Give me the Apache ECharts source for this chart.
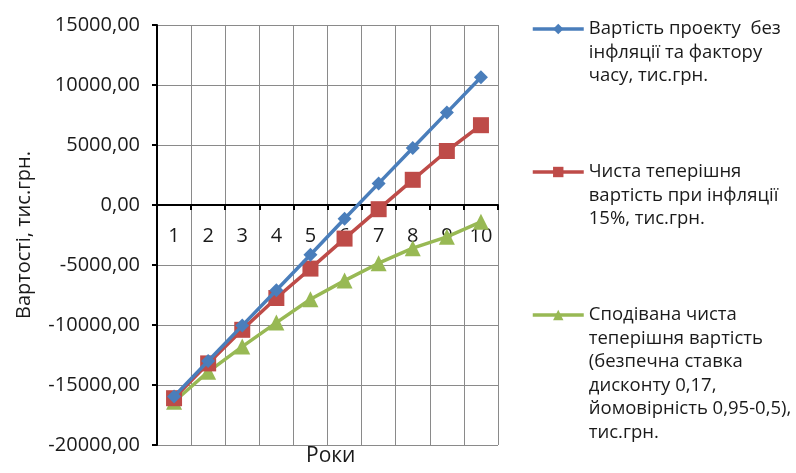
<!DOCTYPE html>
<html>
<head>
<meta charset="utf-8">
<style>
html, body { margin: 0; padding: 0; background: #fff; }
#chart { width: 796px; height: 473px; }
</style>
<script src="https://cdn.jsdelivr.net/npm/echarts@6/dist/echarts.min.js"></script>
</head>
<body>
<div id="chart"></div>
<script>
var years = ['1', '2', '3', '4', '5', '6', '7', '8', '9', '10'];
var costNoInflation = [-15950, -13000, -10050, -7100, -4150, -1150, 1800, 4750, 7700, 10650];
var npvInflation = [-16100, -13200, -10400, -7750, -5300, -2800, -350, 2100, 4500, 6650];
var expectedNpv = [-16400, -13900, -11800, -9800, -7850, -6300, -4850, -3600, -2650, -1400];
var seriesNames = [
    'Вартість проекту  без\nінфляції та фактору\nчасу, тис.грн.',
    'Чиста теперішня\nвартість при інфляції\n15%, тис.грн.',
    'Сподівана чиста\nтеперішня вартість\n(безпечна ставка\nдисконту 0,17,\nйомовірність 0,95-0,5),\nтис.грн.'
];

var font = '"Open Sans", "Noto Sans", sans-serif';
var textColor = '#1a1a1a';
var chart = echarts.init(document.getElementById('chart'));

// legend text is centred on its icon, so blank lines are put in front
// to bring the first line level with the icon
function legendFor(name, centerY) {
    var lh = 23.5;
    var lines = name.split('\n').length;
    return {
        data: [name],
        orient: 'vertical',
        left: 531,
        top: centerY - (2 * lines - 1) * lh / 2,
        padding: 0,
        itemWidth: 51,
        itemHeight: 13,
        itemGap: 0,
        lineStyle: { width: 3.5 },
        formatter: function (n) {
            return new Array(lines).join('\n') + n;
        },
        textStyle: {
            fontFamily: font,
            fontSize: 18.5,
            color: textColor,
            lineHeight: lh
        }
    };
}

var option = {
    backgroundColor: '#fff',
    animation: false,
    legend: [
        legendFor(seriesNames[0], 29),
        legendFor(seriesNames[1], 172),
        legendFor(seriesNames[2], 315)
    ],
    grid: {
        left: 157,
        right: 298,
        top: 25,
        bottom: 28,
        outerBoundsMode: 'none'
    },
    title: {
        text: 'Роки',
        left: 306,
        top: 446,
        padding: 0,
        textStyle: {
            fontFamily: font,
            fontSize: 21,
            fontWeight: 'normal',
            color: textColor
        }
    },
    xAxis: {
        type: 'category',
        data: years,
        boundaryGap: true,
        offset: -240,
        axisLine: {
            onZero: false,
            lineStyle: { color: '#000', width: 2 }
        },
        axisTick: {
            show: true,
            length: 5,
            lineStyle: { color: '#000', width: 2 }
        },
        axisLabel: {
            fontFamily: font,
            fontSize: 20,
            color: textColor,
            margin: 21
        },
        splitLine: {
            show: true,
            lineStyle: { color: '#8a8a8a', width: 1 }
        }
    },
    yAxis: {
        type: 'value',
        min: -20000,
        max: 15000,
        interval: 5000,
        name: 'Вартості, тис.грн.',
        nameLocation: 'middle',
        nameGap: 123,
        nameTextStyle: {
            fontFamily: font,
            fontSize: 20,
            color: textColor
        },
        axisLine: {
            show: true,
            lineStyle: { color: '#000', width: 2 }
        },
        axisTick: {
            show: true,
            length: 5,
            lineStyle: { color: '#000', width: 2 }
        },
        axisLabel: {
            fontFamily: font,
            fontSize: 20,
            color: textColor,
            margin: 17,
            formatter: function (v) {
                return v.toFixed(2).replace('.', ',');
            }
        },
        splitLine: {
            show: true,
            lineStyle: { color: '#8a8a8a', width: 1 }
        }
    },
    series: [
        {
            name: seriesNames[0],
            type: 'line',
            data: costNoInflation,
            symbol: 'diamond',
            symbolSize: 14,
            color: '#4a7ebb',
            lineStyle: { width: 3.5 },
            z: 4
        },
        {
            name: seriesNames[1],
            type: 'line',
            data: npvInflation,
            symbol: 'rect',
            symbolSize: 16,
            color: '#be4b48',
            lineStyle: { width: 3.5 },
            z: 3
        },
        {
            name: seriesNames[2],
            type: 'line',
            data: expectedNpv,
            symbol: 'triangle',
            symbolSize: 16,
            color: '#98b954',
            lineStyle: { width: 3.5 },
            z: 2
        }
    ]
};
chart.setOption(option);
</script>
</body>
</html>
